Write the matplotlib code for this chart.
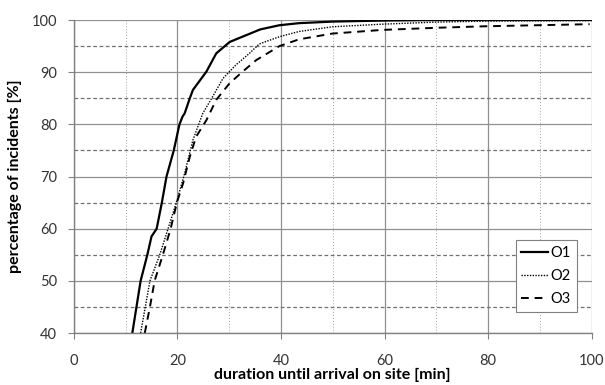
import matplotlib.pyplot as plt
from matplotlib.ticker import MultipleLocator

# values
o1_x = [11.3, 12.9, 14.2, 15.0, 16.0, 17.0, 17.9, 19.3, 20.4, 21.0, 21.4, 22.4, 23.0,
        25.6, 27.5, 30.1, 33.3, 36.0, 39.7, 43.5, 50.0, 60.0, 70.0, 100.0]
o1_y = [40.0, 50.0, 55.0, 58.5, 60.0, 65.0, 70.0, 75.0, 80.0, 81.5, 82.1, 85.0, 86.6,
        90.1, 93.6, 95.8, 97.1, 98.2, 99.0, 99.4, 99.7, 99.9, 100.0, 100.0]

o2_x = [12.9, 14.7, 16.6, 18.2, 19.8, 21.4, 23.0, 24.9, 26.8, 28.8, 31.3, 33.9, 35.8,
        39.7, 43.5, 49.9, 59.5, 70.0, 80.0, 100.0]
o2_y = [40.0, 50.0, 55.0, 60.0, 65.0, 70.6, 77.0, 82.1, 85.3, 88.8, 91.4, 93.6, 95.4,
        96.8, 97.8, 98.7, 99.2, 99.6, 99.8, 99.9]

o3_x = [13.7, 14.7, 15.6, 17.2, 18.7, 19.9, 21.1, 22.4, 23.6, 25.6, 27.5, 30.1, 32.6,
        35.2, 39.7, 43.5, 49.9, 59.5, 69.7, 79.4, 99.6]
o3_y = [40.0, 45.0, 50.0, 55.0, 60.0, 65.0, 68.7, 73.8, 77.6, 80.8, 84.7, 87.9, 90.1,
        92.3, 95.0, 96.3, 97.4, 98.1, 98.5, 98.8, 99.2]

plt.rcParams['font.family'] = ['Lato', 'DejaVu Sans']

fig = plt.figure(figsize=(6.05, 3.85), dpi=100)
ax = fig.add_axes([0.122, 0.135, 0.856, 0.813])

ax.plot(o1_x, o1_y, color="black", linewidth=1.6, linestyle="-", label="O1")
ax.plot(o2_x, o2_y, color="black", linewidth=1.0, linestyle=(0, (1, 1)), label="O2")
ax.plot(o3_x, o3_y, color="black", linewidth=1.4, linestyle=(0, (4, 3)), label="O3")

ax.set_xlim(0, 100)
ax.set_ylim(40, 100)
ax.xaxis.set_major_locator(MultipleLocator(20))
ax.xaxis.set_minor_locator(MultipleLocator(10))
ax.yaxis.set_major_locator(MultipleLocator(10))
ax.yaxis.set_minor_locator(MultipleLocator(5))

ax.grid(which="major", axis="both", color="#909090", linewidth=0.9, linestyle="-")
ax.grid(which="minor", axis="y", color="#707070", linewidth=0.9, linestyle=(0, (3, 2)))
ax.grid(which="minor", axis="x", color="#a0a0a0", linewidth=0.7, linestyle=(0, (1, 2)))
ax.set_axisbelow(True)

for side in ["top", "right"]:
    ax.spines[side].set_visible(False)
for side in ["left", "bottom"]:
    ax.spines[side].set_color("#808080")
    ax.spines[side].set_linewidth(1.0)

ax.tick_params(which="major", direction="out", length=4, color="#808080",
               labelsize=10.5, labelcolor="#333333")
ax.tick_params(axis="x", which="major", pad=11)
ax.tick_params(axis="y", which="major", pad=8)
ax.tick_params(which="minor", length=0)

ax.set_xlabel("duration until arrival on site [min]", fontsize=11.5, fontweight="bold",
              labelpad=0)
ax.set_ylabel("percentage of incidents [%]", fontsize=11.5, fontweight="bold",
              labelpad=7)

leg = ax.legend(loc="lower right", bbox_to_anchor=(0.985, 0.045), fancybox=False,
                handlelength=1.8, handletextpad=0.2, borderpad=0.4, labelspacing=0.6,
                fontsize=10.5, framealpha=1)
leg.get_frame().set_edgecolor("#808080")
leg.get_frame().set_linewidth(0.8)

plt.savefig("out.png", dpi=100)
